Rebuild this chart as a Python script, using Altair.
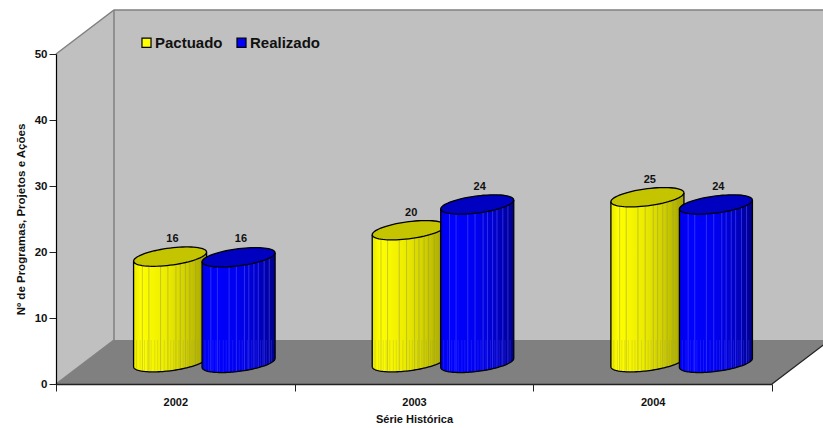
import altair as alt
import numpy as np
import pandas as pd

# Annual counts per series
years = ["2002", "2003", "2004"]
pactuado = [16, 20, 25]
realizado = [16, 24, 24]
series_names = ["Pactuado", "Realizado"]
y_ticks = [0, 10, 20, 30, 40, 50]
y_title = "Nº de Programas, Projetos e Ações"
x_title = "Série Histórica"

# Pseudo-3D box: how far the back wall is shifted from the front plane
DEPTH_X = 0.243   # in category widths
DEPTH_Y = 6.667   # in value units
FLOOR_END = 3 + DEPTH_X

# Cylinder proportions (category widths / value units)
CYL_HALF = 0.153
CYL_CAP = 1.30
CAP_TILT = 0.68  # rise from the centre of a cap to its right end
STYLE = {
    "Pactuado": dict(offset=0.478, base=3.3, top="#c4c400", stripe="#9c9c40",
                     stops=[("#e8e800", 0), ("#ffff00", 0.10), ("#ecec00", 0.45), ("#d0d000", 0.72), ("#a4a400", 1)]),
    "Realizado": dict(offset=0.765, base=3.2, top="#0000c0", stripe="#5a5aff",
                      stops=[("#0000e8", 0), ("#0000ff", 0.15), ("#0000f0", 0.5), ("#0000c4", 0.78), ("#00008c", 1)]),
}
# Facet lines on the cylinder bodies, as fractions of the width
stripes = [0.12, 0.21, 0.37, 0.47, 0.58, 0.64, 0.71, 0.77, 0.85, 0.92]
facets_low = [0.04, 0.09, 0.15, 0.19, 0.24, 0.29, 0.33, 0.42, 0.51, 0.55, 0.62, 0.68, 0.74, 0.8, 0.83, 0.88, 0.95]

FONT = "Liberation Sans"
label_expr = " : ".join(f"datum.value == {i} ? '{y}'" for i, y in enumerate(years)) + " : ''"
x_scale = alt.Scale(domain=[0, 3], nice=False, zero=False)
y_scale = alt.Scale(domain=[0, 50], nice=False, zero=False)
x_axis = alt.Axis(
    values=[0, 1, 2, 3], labelExpr=label_expr, labelOffset=119.33, labelOverlap=False, labelFlush=False,
    labelBound=False, tickSize=7, tickColor="#222222", domainColor="#222222", domainWidth=1.6, tickWidth=1,
    labelFont=FONT, labelFontWeight="bold", labelFontSize=11, labelColor="#111111", labelPadding=5,
    labelAngle=0, titleFont=FONT, titleFontWeight="bold", titleFontSize=11, titleColor="#111111", titlePadding=6,
    grid=False, zindex=2)
y_axis = alt.Axis(
    values=y_ticks, tickSize=7, tickColor="#222222", domainColor="black", domainWidth=1.2, tickWidth=1,
    labelFont=FONT, labelFontWeight="bold", labelFontSize=11.5, labelColor="#111111", labelPadding=2,
    titleFont=FONT, titleFontWeight="bold", titleFontSize=11.5, titleColor="#111111", titlePadding=8,
    grid=False, zindex=2)
X = alt.X("x:Q", scale=x_scale, axis=x_axis, title=x_title)
Y = alt.Y("y:Q", scale=y_scale, axis=y_axis, title=y_title)
Y2 = alt.Y2("y2:Q")


def shape_frames(name, values):
    st = STYLE[name]
    u = np.cos(np.linspace(np.pi, 0, 61))
    t = np.linspace(0, 2 * np.pi, 73)
    body, cap, outline, capline, lines, low = [], [], [], [], [], []
    for i, v in enumerate(values):
        cx = i + st["offset"]
        base = st["base"]
        top = v + base
        root = np.sqrt(np.clip(1 - u**2, 0, 1))
        xs = cx + CYL_HALF * u
        tilt = CAP_TILT * u
        body.append(pd.DataFrame(dict(k=i, x=xs, y=base + tilt - CYL_CAP * root, y2=top + tilt)))
        cap.append(pd.DataFrame(dict(k=i, x=xs, y=top + tilt - CYL_CAP * root, y2=top + tilt + CYL_CAP * root)))
        capline.append(pd.DataFrame(dict(k=i, o=range(len(t)), x=cx + CYL_HALF * np.cos(t),
                                         y=top + CAP_TILT * np.cos(t) + CYL_CAP * np.sin(t))))
        outline.append(pd.DataFrame(dict(
            k=i,
            o=range(len(u) + 2),
            x=np.r_[cx - CYL_HALF, xs, cx + CYL_HALF],
            y=np.r_[top - CAP_TILT, base + tilt - CYL_CAP * root, top + CAP_TILT],
        )))
        for group, fracs, clamp in ((lines, stripes, None), (low, facets_low, DEPTH_Y)):
            for f in fracs:
                w = 2 * f - 1
                floor_y = base + CAP_TILT * w - CYL_CAP * np.sqrt(1 - w**2)
                ceil_y = top + CAP_TILT * w if clamp is None else clamp
                group.append(dict(x=cx + CYL_HALF * w, y=floor_y, y2=ceil_y))
    body, cap = pd.concat(body), pd.concat(cap)
    outline, capline = pd.concat(outline), pd.concat(capline)
    grad = alt.LinearGradient(gradient="linear", x1=0, x2=1, y1=0, y2=0,
                              stops=[alt.GradientStop(color=c, offset=o) for c, o in st["stops"]])
    return [
        alt.Chart(body).mark_area(orient="vertical", color=grad).encode(X, Y, Y2, detail="k:N"),
        alt.Chart(pd.DataFrame(lines)).mark_rule(color=st["stripe"], strokeWidth=1, opacity=0.5).encode(X, Y, Y2),
        alt.Chart(pd.DataFrame(low)).mark_rule(color=st["stripe"], strokeWidth=1, opacity=0.25).encode(X, Y, Y2),
        alt.Chart(cap).mark_area(orient="vertical", color=st["top"]).encode(X, Y, Y2, detail="k:N"),
        alt.Chart(outline).mark_line(color="black", strokeWidth=1.3).encode(X, Y, alt.Order("o:Q"), detail="k:N"),
        alt.Chart(capline).mark_line(color="black", strokeWidth=1.3).encode(X, Y, alt.Order("o:Q"), detail="k:N"),
    ]


# Walls and floor of the box
left_wall = pd.DataFrame(dict(x=[0, DEPTH_X], y=[0, DEPTH_Y], y2=[50, 50 + DEPTH_Y]))
back_wall = pd.DataFrame(dict(x=[DEPTH_X, 3.3], y=[DEPTH_Y, DEPTH_Y], y2=[50 + DEPTH_Y, 50 + DEPTH_Y]))
floor = pd.DataFrame(dict(x=[0, DEPTH_X, 3, FLOOR_END], y=[0, 0, 0, DEPTH_Y], y2=[0, DEPTH_Y, DEPTH_Y, DEPTH_Y]))
edges = pd.DataFrame(dict(
    k=[0, 0, 0, 1, 1, 2, 2],
    o=[0, 1, 2, 0, 1, 0, 1],
    x=[0, DEPTH_X, 3.3, DEPTH_X, DEPTH_X, 0, DEPTH_X],
    y=[50, 50 + DEPTH_Y, 50 + DEPTH_Y, DEPTH_Y, 50 + DEPTH_Y, 0, DEPTH_Y],
))
front_edge = pd.DataFrame(dict(x=[3, FLOOR_END], y=[0, DEPTH_Y]))

# Value labels above each cylinder
rows = []
for name, vals in zip(series_names, (pactuado, realizado)):
    for i, v in enumerate(vals):
        rows.append(dict(x=i + STYLE[name]["offset"] + 0.01, y=v + 5.9, t=str(v)))
value_labels = alt.Chart(pd.DataFrame(rows)).mark_text(
    font=FONT, fontWeight="bold", fontSize=11, color="#111111", baseline="middle"
).encode(X, Y, text="t:N")

# Legend driven by a hidden point layer
legend_points = alt.Chart(pd.DataFrame(dict(x=[0, 0], y=[0, 0], s=series_names))).mark_square(size=0).encode(
    X, Y,
    color=alt.Color("s:N", scale=alt.Scale(domain=series_names, range=["#ffff00", "#0000ff"]), legend=alt.Legend(
        title=None, orient="none", legendX=83, legendY=-19, direction="horizontal",
        symbolType="square", symbolSize=82, symbolStrokeColor="black", symbolStrokeWidth=1.2, symbolOpacity=1,
        labelFont=FONT, labelFontWeight="bold", labelFontSize=15, labelColor="#111111", labelOffset=1,
        columnPadding=11, padding=0)),
)

layers = [
    alt.Chart(left_wall).mark_area(orient="vertical", color="#c0c0c0").encode(X, Y, Y2),
    alt.Chart(back_wall).mark_area(orient="vertical", color="#c0c0c0").encode(X, Y, Y2),
    alt.Chart(floor).mark_area(orient="vertical", color="#808080").encode(X, Y, Y2),
    alt.Chart(edges).mark_line(color="#808080", strokeWidth=1.5).encode(X, Y, alt.Order("o:Q"), detail="k:N"),
    alt.Chart(front_edge).mark_line(color="#222222", strokeWidth=1.3).encode(X, Y),
]
layers += shape_frames("Pactuado", pactuado)
layers += shape_frames("Realizado", realizado)
layers += [value_labels, legend_points]

chart = alt.layer(*layers).properties(
    width=716,
    height=330,
    padding={"left": 56, "top": 54, "right": 51, "bottom": 44},
    autosize=alt.AutoSizeParams(type="none"),
    background="white",
).configure_view(stroke=None)

chart.save("out.html", embed_options={"renderer": "svg", "actions": False})
